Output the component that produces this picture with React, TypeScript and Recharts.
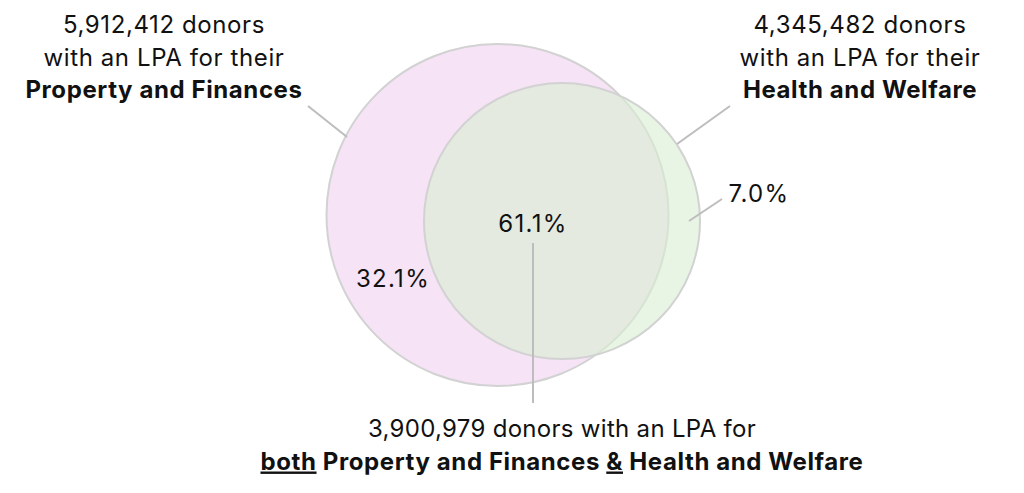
import React from "react";
import { ScatterChart, Scatter, XAxis, YAxis, ZAxis } from "recharts";

// data
const SET_NAMES = ["Property and Finances", "Health and Welfare"];
const SET_DONORS = [5912412, 4345482];
const BOTH_DONORS = 3900979;
const REGION_NAMES = ["Property and Finances only", "Both", "Health and Welfare only"];
const REGION_SHARES = [32.1, 61.1, 7.0];

// layout (chart units = pixels, domain 0..1024 x 0..493)
const W = 1024;
const H = 493;
const CIRCLE_CENTRES = [
  { x: 497.5, y: 215 },
  { x: 562, y: 221 },
];
const CIRCLE_RADII = [171, 138];
const CIRCLE_FILLS = ["#f6e3f6", "#d8eed2"];
const CIRCLE_OPACITY = [1, 0.6];
const SHARE_POS = [
  { x: 393, y: 287 },
  { x: 533, y: 232 },
  { x: 759, y: 202 },
];
const HEAD_POS = [
  { x: 164, y: 33 },
  { x: 860, y: 33 },
];
const BOTH_POS = { x: 562, y: 437 };
const LEADERS = [
  [{ x: 308, y: 106 }, { x: 347, y: 137 }],
  [{ x: 730, y: 106 }, { x: 677, y: 144 }],
  [{ x: 722, y: 199 }, { x: 689, y: 221 }],
  [{ x: 533, y: 243 }, { x: 533, y: 403 }],
];

const FONT = "Inter, 'Noto Sans', sans-serif";
const FS = 24;
const LINE = 32.5;
const AREA_MAX = 100000;

const fmt = (n: number) => n.toLocaleString("en-GB");

const circleData = SET_DONORS.map((d, i) => ({
  name: SET_NAMES[i],
  donors: d,
  x: CIRCLE_CENTRES[i].x,
  y: CIRCLE_CENTRES[i].y,
  area: Math.PI * CIRCLE_RADII[i] ** 2,
  fill: CIRCLE_FILLS[i],
  opacity: CIRCLE_OPACITY[i],
}));

const shareData = REGION_SHARES.map((s, i) => ({
  name: REGION_NAMES[i],
  text: `${s.toFixed(1)}%`,
  x: SHARE_POS[i].x,
  y: SHARE_POS[i].y,
}));

const headData = SET_DONORS.map((d, i) => ({
  lines: [`${fmt(d)} donors`, "with an LPA for their"],
  bold: SET_NAMES[i],
  x: HEAD_POS[i].x,
  y: HEAD_POS[i].y,
}));

const bothData = [{ x: BOTH_POS.x, y: BOTH_POS.y, donors: BOTH_DONORS }];

const CircleShape = (props: any) => (
  <circle
    cx={props.cx}
    cy={props.cy}
    r={props.width / 2}
    fill={props.payload.fill}
    fillOpacity={props.payload.opacity}
    stroke="#d2d2d2"
    strokeWidth={2}
  />
);

const NoShape = () => <g />;

const ShareLabel = (props: any) => (
  <text
    x={props.cx}
    y={props.cy}
    textAnchor="middle"
    fontFamily={FONT}
    fontSize={FS}
    letterSpacing={1.3}
    fill="#111"
  >
    {props.payload.text}
  </text>
);

const HeadLabel = (props: any) => {
  const p = props.payload;
  return (
    <text x={props.cx} y={props.cy} textAnchor="middle" fontFamily={FONT} fontSize={FS} letterSpacing={0.6} fill="#111">
      {p.lines.map((l: string, i: number) => (
        <tspan key={i} x={props.cx} y={props.cy + i * LINE}>
          {l}
        </tspan>
      ))}
      <tspan x={props.cx} y={props.cy + 2 * LINE} fontWeight={700}>
        {p.bold}
      </tspan>
    </text>
  );
};

const BothLabel = (props: any) => (
  <text x={props.cx} y={props.cy} textAnchor="middle" fontFamily={FONT} fontSize={FS} fill="#111">
    <tspan x={props.cx} y={props.cy} letterSpacing={0.3}>
      {`${fmt(props.payload.donors)} donors with an LPA for`}
    </tspan>
    <tspan x={props.cx} y={props.cy + LINE} fontWeight={700} letterSpacing={0.6}>
      <tspan textDecoration="underline">both</tspan> {SET_NAMES[0]} <tspan textDecoration="underline">&amp;</tspan>{" "}
      {SET_NAMES[1]}
    </tspan>
  </text>
);

export default function App() {
  return (
    <div style={{ position: "absolute", left: 0, top: 0, width: W, height: H, background: "#fff" }}>
      <ScatterChart width={W} height={H} margin={{ top: 0, right: 0, bottom: 0, left: 0 }}>
        <XAxis type="number" dataKey="x" domain={[0, W]} hide allowDataOverflow />
        <YAxis type="number" dataKey="y" domain={[0, H]} reversed hide allowDataOverflow />
        <ZAxis type="number" dataKey="area" domain={[0, AREA_MAX]} range={[0, AREA_MAX]} />
        <Scatter data={circleData} shape={CircleShape} isAnimationActive={false} />
        {LEADERS.map((seg, i) => (
          <Scatter
            key={i}
            data={seg}
            shape={NoShape}
            line={{ stroke: "#bdbdbd", strokeWidth: 2 }}
            isAnimationActive={false}
          />
        ))}
        <Scatter data={shareData} shape={ShareLabel} isAnimationActive={false} />
        <Scatter data={headData} shape={HeadLabel} isAnimationActive={false} />
        <Scatter data={bothData} shape={BothLabel} isAnimationActive={false} />
      </ScatterChart>
    </div>
  );
}
